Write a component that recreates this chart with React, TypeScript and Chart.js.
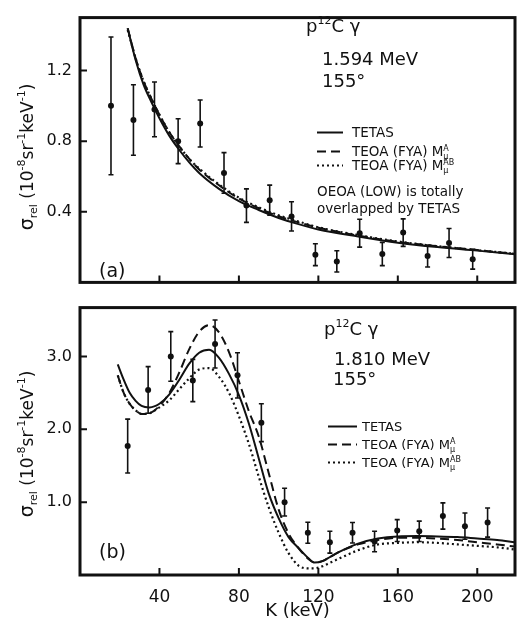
import React, { useEffect, useRef } from 'react';
import { Chart, registerables } from 'chart.js';
Chart.register(...registerables);

const FONT = '"DejaVu Sans", sans-serif';

// ---------- shared axis ticks ----------
const xTickVals = [40, 80, 120, 160, 200];
const yTickValsA = [0.4, 0.8, 1.2];
const yTickValsB = [1.0, 2.0, 3.0];

// ---------- panel (a): 1.594 MeV ----------
const curveKA = [24, 28, 32, 36, 40, 45, 50, 55, 60, 70, 80, 90, 100, 110, 120, 140, 160, 180, 200, 219];
const tetasA = [1.44, 1.26, 1.12, 1.02, 0.93, 0.83, 0.75, 0.68, 0.62, 0.53, 0.46, 0.41, 0.365, 0.33, 0.30, 0.26, 0.225, 0.20, 0.18, 0.16];
const teoaMA_A = [1.44, 1.27, 1.14, 1.04, 0.95, 0.85, 0.77, 0.70, 0.64, 0.55, 0.475, 0.42, 0.375, 0.34, 0.31, 0.265, 0.23, 0.205, 0.183, 0.162];
const teoaMAB_A = [1.43, 1.27, 1.14, 1.04, 0.95, 0.85, 0.77, 0.70, 0.645, 0.555, 0.48, 0.425, 0.38, 0.345, 0.312, 0.268, 0.232, 0.205, 0.183, 0.162];
const expKA = [15.6, 26.9, 37.5, 49.4, 60.5, 72.5, 83.8, 95.5, 106.5, 118.5, 129.3, 140.8, 152.2, 162.7, 175.0, 185.8, 197.7];
const expYA = [1.00, 0.92, 0.98, 0.80, 0.90, 0.62, 0.435, 0.466, 0.374, 0.157, 0.119, 0.279, 0.161, 0.282, 0.149, 0.223, 0.131];
const expErrA = [0.39, 0.20, 0.155, 0.127, 0.133, 0.115, 0.095, 0.085, 0.083, 0.062, 0.06, 0.079, 0.066, 0.078, 0.062, 0.082, 0.056];

// ---------- panel (b): 1.810 MeV ----------
const curveKB = [19, 22, 25, 28, 31, 35, 40, 45, 50, 55, 60, 65, 70, 75, 80, 85, 90, 95, 100, 105, 110, 115, 118, 122, 126, 130, 140, 150, 160, 170, 180, 190, 200, 210, 219];
const tetasB = [2.89, 2.68, 2.50, 2.39, 2.32, 2.30, 2.35, 2.48, 2.68, 2.90, 3.05, 3.09, 2.98, 2.76, 2.47, 2.08, 1.60, 1.12, 0.78, 0.52, 0.37, 0.23, 0.17, 0.19, 0.25, 0.31, 0.43, 0.50, 0.53, 0.535, 0.53, 0.52, 0.50, 0.48, 0.45];
const teoaMA_B = [2.74, 2.50, 2.35, 2.26, 2.21, 2.22, 2.32, 2.50, 2.78, 3.10, 3.34, 3.43, 3.33, 3.06, 2.66, 2.25, 1.90, 1.40, 0.90, 0.57, 0.37, 0.22, 0.17, 0.19, 0.25, 0.31, 0.42, 0.48, 0.51, 0.51, 0.50, 0.48, 0.45, 0.42, 0.39];
const teoaMAB_B = [2.74, 2.50, 2.35, 2.26, 2.21, 2.22, 2.30, 2.40, 2.55, 2.70, 2.82, 2.84, 2.72, 2.50, 2.18, 1.80, 1.35, 0.93, 0.58, 0.30, 0.13, 0.09, 0.09, 0.12, 0.17, 0.22, 0.34, 0.42, 0.44, 0.45, 0.44, 0.42, 0.40, 0.38, 0.35];
const expKB = [24.0, 34.3, 45.7, 56.8, 68.0, 79.3, 91.3, 103.0, 114.7, 125.8, 137.2, 148.3, 159.7, 170.8, 182.7, 193.8, 205.2];
const expYB = [1.77, 2.54, 3.00, 2.67, 3.17, 2.74, 2.09, 1.00, 0.58, 0.45, 0.58, 0.46, 0.61, 0.60, 0.81, 0.67, 0.72];
const expErrB = [0.37, 0.32, 0.34, 0.29, 0.33, 0.31, 0.26, 0.19, 0.145, 0.15, 0.14, 0.14, 0.15, 0.14, 0.18, 0.18, 0.20];

type Part = { t: string; size: number; dy?: number; under?: { t: string; size: number; dy: number } };

function richWidth(ctx: CanvasRenderingContext2D, parts: Part[]) {
  let w = 0;
  for (const p of parts) {
    ctx.font = `${p.size}px ${FONT}`;
    let pw = ctx.measureText(p.t).width;
    if (p.under) {
      ctx.font = `${p.under.size}px ${FONT}`;
      pw = Math.max(pw, ctx.measureText(p.under.t).width);
    }
    w += pw;
  }
  return w;
}

function drawRich(ctx: CanvasRenderingContext2D, x: number, y: number, parts: Part[]) {
  let cx = x;
  for (const p of parts) {
    ctx.font = `${p.size}px ${FONT}`;
    ctx.fillText(p.t, cx, y + (p.dy || 0));
    let w = ctx.measureText(p.t).width;
    if (p.under) {
      ctx.font = `${p.under.size}px ${FONT}`;
      ctx.fillText(p.under.t, cx, y + p.under.dy);
      w = Math.max(w, ctx.measureText(p.under.t).width);
    }
    cx += w;
  }
}

const yTitleParts: Part[] = [
  { t: 'σ', size: 19 },
  { t: 'rel', size: 11, dy: 4 },
  { t: ' (10', size: 17 },
  { t: '-8', size: 11, dy: -8 },
  { t: 'sr', size: 17 },
  { t: '-1', size: 11, dy: -8 },
  { t: 'keV', size: 17 },
  { t: '-1', size: 11, dy: -8 },
  { t: ')', size: 17 },
];

interface PanelCfg {
  offY: number;
  expK: number[];
  expY: number[];
  expErr: number[];
  label: string;
  labelXY: [number, number];
  energy: string;
  headX: number;
  headY: number;
  energyXY: [number, number];
  angleXY: [number, number];
  legLineX: [number, number];
  legTextX: number;
  legRows: number[];
  legSize: number;
  extra: { t: string; x: number; y: number }[];
  yTitleCenter: number;
}

function makePlugin(cfg: PanelCfg) {
  return {
    id: 'decor',
    afterDatasetsDraw(chart: any) {
      const ctx: CanvasRenderingContext2D = chart.ctx;
      const xs = chart.scales.x;
      const ys = chart.scales.y;
      ctx.save();
      const a = chart.chartArea;
      ctx.beginPath();
      ctx.rect(a.left, a.top, a.right - a.left, a.bottom - a.top);
      ctx.clip();
      ctx.strokeStyle = '#111';
      ctx.lineWidth = 1.6;
      for (let i = 0; i < cfg.expK.length; i++) {
        const px = xs.getPixelForValue(cfg.expK[i]);
        const p1 = ys.getPixelForValue(cfg.expY[i] + cfg.expErr[i]);
        const p2 = ys.getPixelForValue(cfg.expY[i] - cfg.expErr[i]);
        ctx.beginPath();
        ctx.moveTo(px, p1);
        ctx.lineTo(px, p2);
        ctx.moveTo(px - 2.5, p1);
        ctx.lineTo(px + 2.5, p1);
        ctx.moveTo(px - 2.5, p2);
        ctx.lineTo(px + 2.5, p2);
        ctx.stroke();
      }
      ctx.restore();
    },
    afterDraw(chart: any) {
      const ctx: CanvasRenderingContext2D = chart.ctx;
      const a = chart.chartArea;
      const xs = chart.scales.x;
      const ys = chart.scales.y;
      const o = cfg.offY;
      ctx.save();
      ctx.strokeStyle = '#111';
      ctx.fillStyle = '#111';
      // frame
      ctx.lineWidth = 3;
      ctx.strokeRect(a.left, a.top, a.right - a.left, a.bottom - a.top);
      // inward ticks
      ctx.lineWidth = 2;
      ctx.beginPath();
      for (const v of xTickVals) {
        const px = xs.getPixelForValue(v);
        ctx.moveTo(px, a.bottom);
        ctx.lineTo(px, a.bottom - 7);
      }
      for (const t of ys.ticks) {
        const py = ys.getPixelForValue(t.value);
        ctx.moveTo(a.left, py);
        ctx.lineTo(a.left + 7, py);
      }
      ctx.stroke();

      ctx.textBaseline = 'alphabetic';
      ctx.textAlign = 'left';
      // header
      drawRich(ctx, cfg.headX, cfg.headY - o, [
        { t: 'p', size: 18 },
        { t: '12', size: 11, dy: -8 },
        { t: 'C', size: 18 },
        { t: ' γ', size: 18 },
      ]);
      ctx.font = `18px ${FONT}`;
      ctx.fillText(cfg.energy, cfg.energyXY[0], cfg.energyXY[1] - o);
      ctx.fillText('155°', cfg.angleXY[0], cfg.angleXY[1] - o);
      // panel label
      ctx.font = `19px ${FONT}`;
      ctx.fillText(cfg.label, cfg.labelXY[0], cfg.labelXY[1] - o);

      // legend
      const s = cfg.legSize;
      const styles: number[][] = [[], [9, 5], [2, 3]];
      const names: Part[][] = [
        [{ t: 'TETAS', size: s }],
        [{ t: 'TEOA (FYA) M', size: s }, { t: 'A', size: 8, dy: -5, under: { t: 'μ', size: 8, dy: 2.5 } }],
        [{ t: 'TEOA (FYA) M', size: s }, { t: 'AB', size: 8, dy: -5, under: { t: 'μ', size: 8, dy: 2.5 } }],
      ];
      for (let i = 0; i < 3; i++) {
        const yb = cfg.legRows[i] - o;
        ctx.setLineDash(styles[i]);
        ctx.lineWidth = i === 2 ? 2.2 : 2;
        ctx.beginPath();
        ctx.moveTo(cfg.legLineX[0], yb - 4.5);
        ctx.lineTo(cfg.legLineX[1], yb - 4.5);
        ctx.stroke();
        ctx.setLineDash([]);
        drawRich(ctx, cfg.legTextX, yb, names[i]);
      }
      ctx.font = `${s}px ${FONT}`;
      for (const e of cfg.extra) ctx.fillText(e.t, e.x, e.y - o);

      // y title (rotated)
      const w = richWidth(ctx, yTitleParts);
      ctx.save();
      ctx.translate(33, cfg.yTitleCenter - o);
      ctx.rotate(-Math.PI / 2);
      drawRich(ctx, -w / 2, 0, yTitleParts);
      ctx.restore();
      ctx.restore();
    },
  };
}

function buildDatasets(k: number[], s1: number[], s2: number[], s3: number[], ek: number[], ey: number[]) {
  const base = { pointRadius: 0, cubicInterpolationMode: 'monotone' as const, fill: false, borderColor: '#111' };
  return [
    { ...base, label: 'TETAS', data: k.map((x, i) => ({ x, y: s1[i] })), borderWidth: 2 },
    { ...base, label: 'TEOA (FYA) M^A', data: k.map((x, i) => ({ x, y: s2[i] })), borderWidth: 2, borderDash: [9, 5] },
    { ...base, label: 'TEOA (FYA) M^AB', data: k.map((x, i) => ({ x, y: s3[i] })), borderWidth: 2.2, borderDash: [2, 3] },
    {
      label: 'data', data: ek.map((x, i) => ({ x, y: ey[i] })), showLine: false,
      pointRadius: 3, pointBackgroundColor: '#111', pointBorderColor: '#111', pointBorderWidth: 0,
    },
  ];
}

function makeOptions(yMax: number, yTicks: number[], top: boolean, padTop: number, padBottom: number) {
  return {
    animation: false,
    responsive: false,
    maintainAspectRatio: false,
    events: [],
    layout: { padding: { left: 0, right: 2, top: padTop, bottom: padBottom } },
    plugins: { legend: { display: false }, tooltip: { enabled: false }, title: { display: false } },
    scales: {
      x: {
        type: 'linear',
        min: 0,
        max: 219,
        grid: { display: false, drawTicks: false },
        border: { display: false },
        ticks: { display: !top, padding: 12, color: '#111', font: { family: FONT, size: 17 } },
        title: top
          ? { display: false }
          : { display: true, text: 'K (keV)', color: '#111', font: { family: FONT, size: 18 }, padding: { top: 0, bottom: 1 } },
        afterBuildTicks: (s: any) => { s.ticks = xTickVals.map((v) => ({ value: v })); },
        afterFit: (s: any) => { s.height = top ? 0 : 48; },
      },
      y: {
        type: 'linear',
        min: 0,
        max: yMax,
        grid: { display: false, drawTicks: false },
        border: { display: false },
        ticks: { padding: 8, color: '#111', font: { family: FONT, size: 16 }, callback: (v: any) => Number(v).toFixed(1) },
        afterBuildTicks: (s: any) => { s.ticks = yTicks.map((v) => ({ value: v })); },
        afterFit: (s: any) => { s.width = 80; },
      },
    },
  };
}

const cfgA: PanelCfg = {
  offY: 0,
  expK: expKA, expY: expYA, expErr: expErrA,
  label: '(a)', labelXY: [99, 277],
  energy: '1.594 MeV',
  headX: 306, headY: 32,
  energyXY: [322, 65], angleXY: [322, 87],
  legLineX: [317, 343], legTextX: 352, legRows: [137, 156, 170], legSize: 13.5,
  extra: [
    { t: 'OEOA (LOW) is totally', x: 317, y: 196 },
    { t: 'overlapped by TETAS', x: 317, y: 213 },
  ],
  yTitleCenter: 157,
};

const cfgB: PanelCfg = {
  offY: 290,
  expK: expKB, expY: expYB, expErr: expErrB,
  label: '(b)', labelXY: [99, 558],
  energy: '1.810 MeV',
  headX: 324, headY: 335,
  energyXY: [334, 365], angleXY: [333, 385],
  legLineX: [328, 357], legTextX: 362, legRows: [431, 449, 467], legSize: 13,
  extra: [],
  yTitleCenter: 444,
};

export default function App() {
  const refA = useRef<HTMLCanvasElement>(null);
  const refB = useRef<HTMLCanvasElement>(null);
  useEffect(() => {
    const cA = new Chart(refA.current as HTMLCanvasElement, {
      type: 'line',
      data: { datasets: buildDatasets(curveKA, tetasA, teoaMA_A, teoaMAB_A, expKA, expYA) as any },
      options: makeOptions(1.5, yTickValsA, true, 8, 4) as any,
      plugins: [makePlugin(cfgA)],
    });
    const cB = new Chart(refB.current as HTMLCanvasElement, {
      type: 'line',
      data: { datasets: buildDatasets(curveKB, tetasB, teoaMA_B, teoaMAB_B, expKB, expYB) as any },
      options: makeOptions(3.67, yTickValsB, false, 6, 0) as any,
      plugins: [makePlugin(cfgB)],
    });
    return () => { cA.destroy(); cB.destroy(); };
  }, []);
  return (
    <div style={{ position: 'absolute', left: 0, top: 0, width: 519, height: 623, background: '#fff' }}>
      <canvas ref={refA} width={519} height={300} style={{ position: 'absolute', left: 0, top: 0, width: 519, height: 300 }} />
      <canvas ref={refB} width={519} height={333} style={{ position: 'absolute', left: 0, top: 290, width: 519, height: 333 }} />
    </div>
  );
}
